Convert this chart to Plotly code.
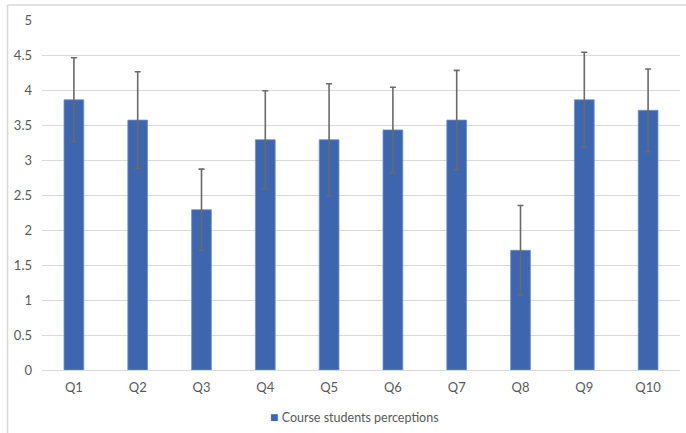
import plotly.graph_objects as go

# Mean score and standard deviation for each survey question
questions = ["Q1", "Q2", "Q3", "Q4", "Q5", "Q6", "Q7", "Q8", "Q9", "Q10"]
mean_scores = [3.86, 3.57, 2.29, 3.29, 3.29, 3.43, 3.57, 1.71, 3.86, 3.71]
std_devs = [0.60, 0.69, 0.58, 0.70, 0.80, 0.61, 0.71, 0.64, 0.68, 0.59]
y_ticks = [0, 0.5, 1, 1.5, 2, 2.5, 3, 3.5, 4, 4.5, 5]
series_name = "Course students perceptions"
bar_color = "#3E66AF"

label_font = dict(family="Lato, Open Sans, sans-serif", size=13, color="#595959")
legend_font = dict(family="Lato, Open Sans, sans-serif", size=12.5, color="#595959")

fig = go.Figure()
fig.add_trace(go.Bar(
    x=questions,
    y=mean_scores,
    name=series_name,
    width=0.31,
    showlegend=False,
    marker=dict(color=bar_color, line=dict(color="#7291CC", width=0.8)),
    error_y=dict(type="data", array=std_devs, visible=True,
                 color="#6A6A6A", thickness=1.6, width=3),
))

fig.update_layout(
    width=686, height=433,
    margin=dict(l=42, r=6, t=20, b=63),
    paper_bgcolor="white",
    plot_bgcolor="white",
    xaxis=dict(showgrid=False, showline=False, ticks="", tickfont=label_font,
               range=[-0.5, 9.5], ticklabelstandoff=8),
    yaxis=dict(range=[0, 5], tickvals=y_ticks, ticktext=[f"{v:g}" for v in y_ticks],
               showgrid=True, gridcolor="#D9D9D9", gridwidth=1,
               zeroline=True, zerolinecolor="#D9D9D9", zerolinewidth=1,
               showline=False, ticks="", tickfont=label_font, ticklabelstandoff=9),
    # compact legend entry below the axis
    annotations=[dict(
        xref="paper", yref="paper", x=0.49, y=-0.132, xanchor="center", yanchor="middle",
        showarrow=False, font=legend_font,
        text=f"<span style='color:{bar_color};font-size:14px'>■</span> {series_name}",
    )],
    shapes=[
        # light chart-area frame along the left and top edges
        dict(type="line", xref="paper", yref="paper",
             x0=-0.054, x1=-0.054, y0=1.043, y1=-0.2,
             line=dict(color="#D9D9D9", width=1.5)),
        dict(type="line", xref="paper", yref="paper",
             x0=-0.054, x1=1.02, y0=1.043, y1=1.043,
             line=dict(color="#D9D9D9", width=1.5)),
    ],
)

fig.write_html("out.html")
